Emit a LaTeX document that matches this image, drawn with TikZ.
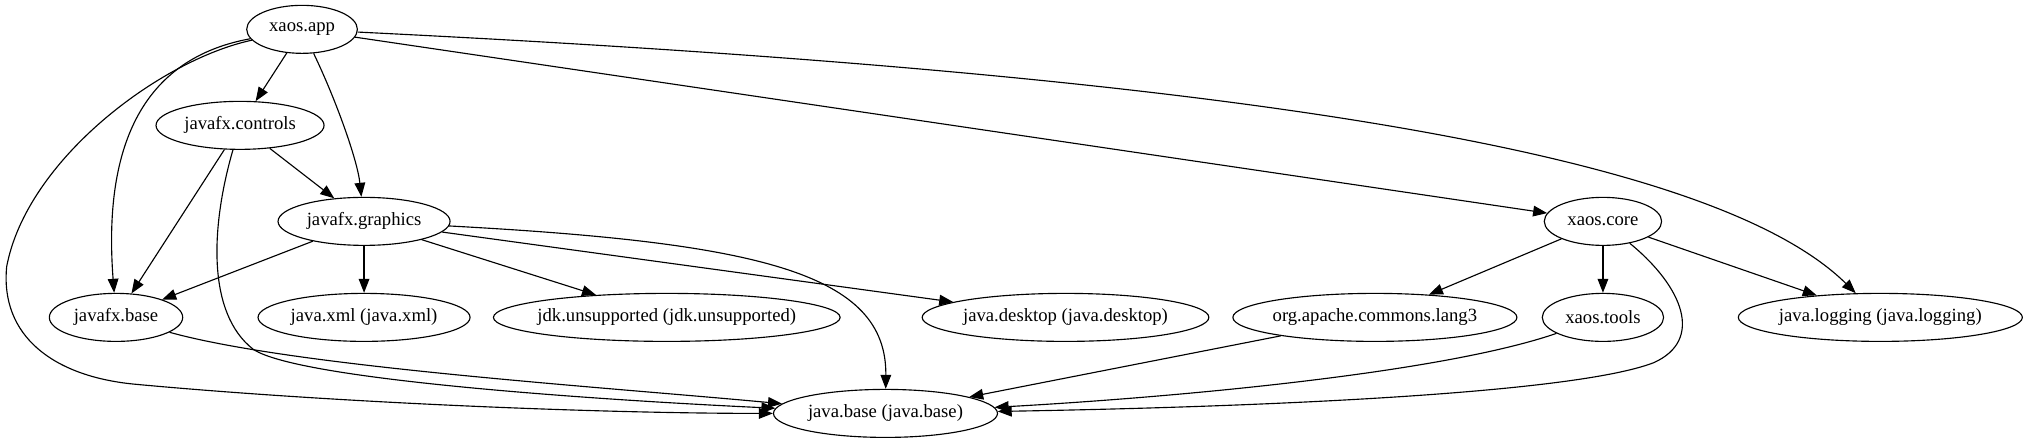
\documentclass[tikz,border=0pt]{standalone}
\usepackage{fontspec}
\setmainfont{Liberation Serif}
\usetikzlibrary{shapes.geometric, arrows.meta}

\begin{document}
\begin{tikzpicture}[x=1pt, y=-1pt,
          module/.style={ellipse, draw, line width=0.85pt, inner xsep=-12pt, inner ysep=0pt, minimum height=36pt, font=\fontsize{14}{16}\selectfont},
          dep/.style={-{Triangle[length=10.5pt, width=8pt]}, line width=0.85pt}
        ]
        \useasboundingbox (0,0) rectangle (1520,332);
        \node[module, minimum width=83pt] (app) at (226.5,22) {xaos.app};
        \node[module, minimum width=126pt] (controls) at (180,94) {javafx.controls};
        \node[module, minimum width=129pt] (graphics) at (273,166) {javafx.graphics};
        \node[module, minimum width=100pt] (fxbase) at (87,238) {javafx.base};
        \node[module, minimum width=159pt] (xml) at (273,238) {java.xml (java.xml)};
        \node[module, minimum width=260pt] (unsupported) at (500,238) {jdk.unsupported (jdk.unsupported)};
        \node[module, minimum width=215pt] (desktop) at (799,238) {java.desktop (java.desktop)};
        \node[module, minimum width=88pt] (core) at (1202,166) {xaos.core};
        \node[module, minimum width=213pt] (lang) at (1031,238) {org.apache.commons.lang3};
        \node[module, minimum width=91pt] (tools) at (1202,238) {xaos.tools};
        \node[module, minimum width=213pt] (logging) at (1410,238) {java.logging (java.logging)};
        \node[module, minimum width=168pt] (base) at (664,310) {java.base (java.base)};
        \foreach \a/\b in {app/controls, app/core, controls/graphics, controls/fxbase,
                           graphics/fxbase, graphics/xml, graphics/unsupported, graphics/desktop,
                           core/lang, core/tools, core/logging, lang/base} {
          \draw[dep] (\a) -- (\b);
        }
        \draw[dep] (app) .. controls (252,75) and (268,120) .. (graphics);
        \draw[dep] (app) .. controls (100,45) and (78,120) .. (fxbase);
        \draw[dep] (app) .. controls (120,45) and (20,120) .. (5,200)
                         .. controls (0,252) and (40,282) .. (100,288)
                         .. controls (250,302) and (450,310) .. (base);
        \draw[dep] (app) .. controls (900,55) and (1280,110) .. (logging);
        \draw[dep] (controls) .. controls (158,170) and (155,235) .. (190,262)
                              .. controls (225,285) and (450,300) .. (base);
        \draw[dep] (graphics) .. controls (570,182) and (665,205) .. (base);
        \draw[dep] (fxbase) .. controls (220,275) and (450,290) .. (base);
        \draw[dep] (core) .. controls (1262,215) and (1278,255) .. (1240,272)
                          .. controls (1180,295) and (950,305) .. (base);
        \draw[dep] (tools) .. controls (1080,280) and (880,298) .. (base);
      \end{tikzpicture}
\end{document}
